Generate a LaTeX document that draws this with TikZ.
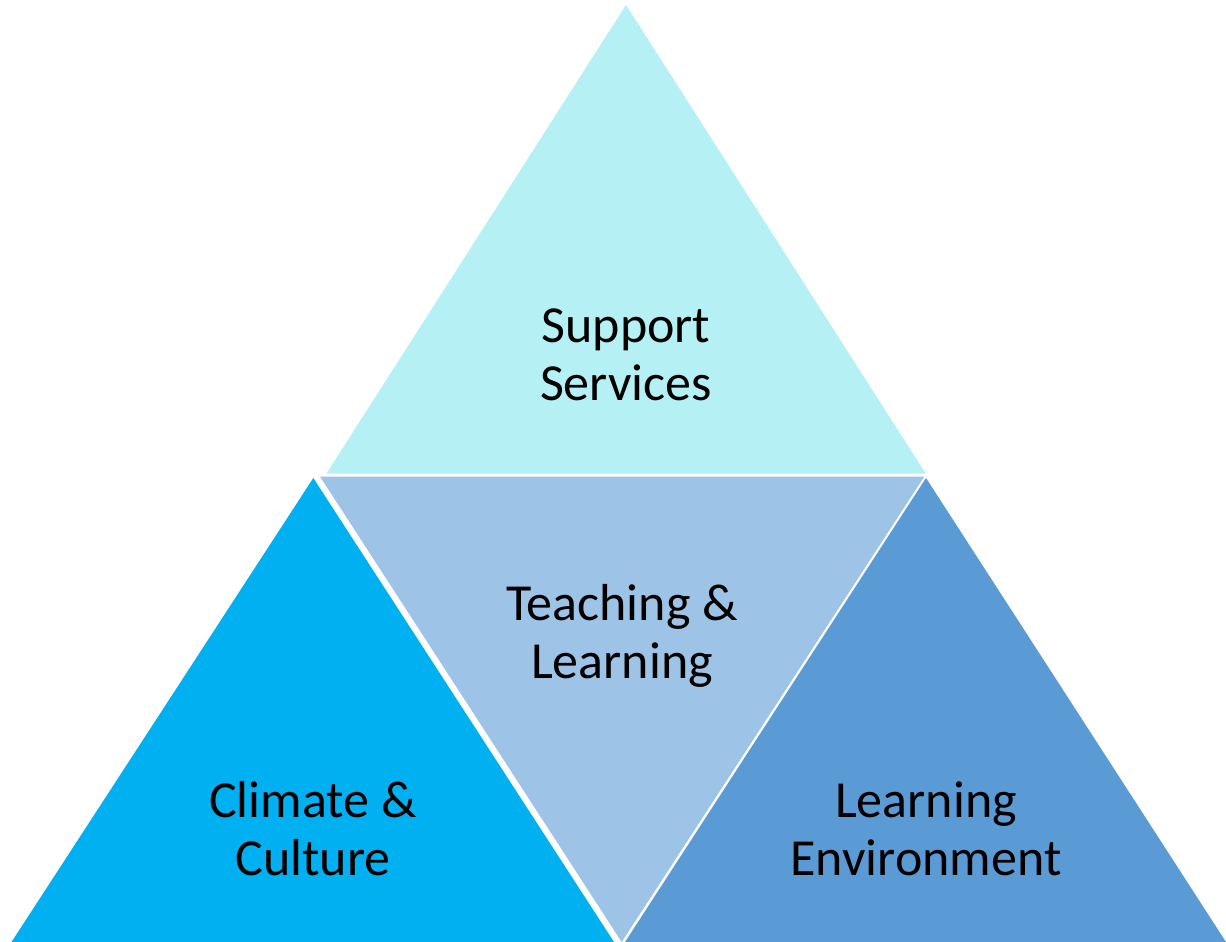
\documentclass[tikz,border=0pt]{standalone}
\usepackage{fontspec}
\setmainfont{Carlito}
\definecolor{topcyan}{RGB}{180,240,244}
\definecolor{midblue}{RGB}{157,195,230}
\definecolor{leftblue}{RGB}{0,176,240}
\definecolor{rightblue}{RGB}{91,155,213}
\begin{document}
\begin{tikzpicture}[x=1pt,y=-1pt,
  lbl/.style={align=center,inner sep=0pt,font=\fontsize{52}{58}\selectfont,text=black}]
  % canvas
  \fill[white] (0,0) rectangle (1226,942);
  \useasboundingbox (0,0) rectangle (1226,942);
  % the four triangles
  \fill[topcyan]   (626,5) -- (925.7,473.5) -- (326.5,473.5) -- cycle;
  \fill[midblue]   (320,476.5) -- (924.3,476.5) -- (621.7,942) -- cycle;
  \fill[leftblue]  (313.3,478) -- (614,942) -- (11.5,942) -- cycle;
  \fill[rightblue] (926,478) -- (1226,942) -- (625,942) -- cycle;
  % labels
  \node[lbl] (support)  at (626,355) {Support\\Services};
  \node[lbl] (teaching) at (622,636) {Teaching \&\\Learning};
  \node[lbl] (climate)  at (313,829) {Climate \&\\Culture};
  \node[lbl] (environ)  at (926,829) {Learning\\Environment};
\end{tikzpicture}
\end{document}
